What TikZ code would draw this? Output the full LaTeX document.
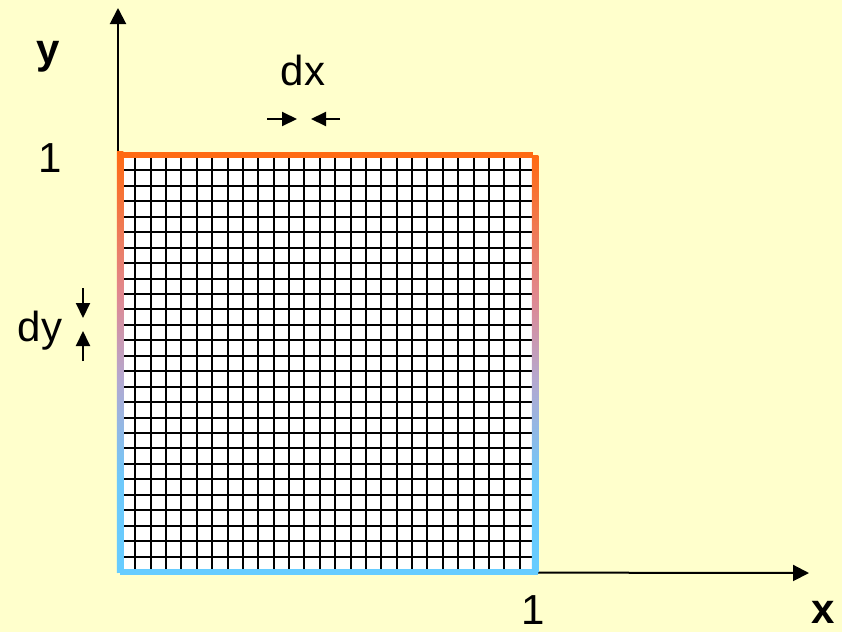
\documentclass[tikz,border=0pt]{standalone}
\usepackage{fontspec}
\setmainfont{Liberation Sans}
\usetikzlibrary{arrows.meta,calc}

\definecolor{paper}{HTML}{FFFFCC}
\definecolor{edgetop}{HTML}{FF6A12}
\definecolor{edgebot}{HTML}{66CCFF}
\definecolor{edgepink}{HTML}{E08890}
\definecolor{edgelilac}{HTML}{B4A8D0}
\pgfdeclareverticalshading{rimshade}{100bp}{
    color(0bp)=(edgebot); color(25bp)=(edgebot); color(36bp)=(edgebot!90!edgelilac);
    color(48bp)=(edgelilac); color(58bp)=(edgepink); color(68bp)=(edgetop!60!edgepink);
    color(75bp)=(edgetop); color(100bp)=(edgetop)}

\begin{document}
\begin{tikzpicture}[
        x=1pt,
        y=-1pt,
        axis/.style={
                draw=black,
                line width=2pt,
                -{Triangle[length=16pt,width=16pt]}
            },
        marker/.style={
                draw=black,
                line width=2pt,
                -{Triangle[length=15pt,width=14pt]}
            },
        label/.style={
                inner sep=0pt,
                anchor=base,
                font=\fontsize{42}{48}\selectfont
            },
        boldlabel/.style={
                label,
                font=\fontsize{42}{48}\selectfont\bfseries
            },
        gridline/.style={
                draw=black,
                line width=2pt
            },
        rim/.style={
                line width=6.5pt
            }
    ]

    % page
    \fill[paper] (0,0) rectangle (842,632);
    \useasboundingbox (0,0) rectangle (842,632);

    % corners of the unit square
    \coordinate (sw) at (120,572);
    \coordinate (ne) at (535,155);
    \coordinate (nw) at (sw |- ne);
    \coordinate (se) at (ne |- sw);

    % axes
    \coordinate (ytip) at (118,8);
    \coordinate (xtip) at (809,573);
    \draw[axis] (118,573) -- (ytip);
    \draw[axis] (sw) -- (xtip);

    % grid
    \fill[white] (sw) rectangle (ne);
    \foreach \i in {1,...,26} {
            \draw[gridline] ($(sw)!\i/27!(se)$) -- ($(nw)!\i/27!(ne)$);
            \draw[gridline] ($(sw)!\i/27!(nw)$) -- ($(se)!\i/27!(ne)$);
        }

    % coloured rim
    \shade[shading=rimshade]
    ($(nw)+(-3.25,-3.25)$) rectangle ($(sw)+(3.25,0)$);
    \shade[shading=rimshade]
    ($(ne)+(-3.25,0)$) rectangle ($(se)+(3.25,0)$);
    \draw[rim, edgetop] ($(nw)+(0,0)$) -- ($(ne)+(-2,0)$);
    \draw[rim, edgebot] ($(sw)+(0,0)$) -- ($(se)+(3.25,0)$);

    % labels
    \node[boldlabel] (ylab) at (48,63) {y};
    \node[label] (yone) at (50,172) {1};
    \node[label] (xone) at (533,624) {1};
    \node[boldlabel] (xlab) at (823,623) {x};
    \node[label] (dxlab) at (303,85) {dx};
    \node[label] (dylab) at (40,341) {dy};

    % step markers
    \coordinate (dxa) at (267,119);
    \coordinate (dxb) at (297,119);
    \coordinate (dxc) at (340,119);
    \coordinate (dxd) at (311,119);
    \draw[marker] (dxa) -- (dxb);
    \draw[marker] (dxc) -- (dxd);

    \coordinate (dya) at (83,288);
    \coordinate (dyb) at (83,318);
    \coordinate (dyc) at (83,361);
    \coordinate (dyd) at (83,331);
    \draw[marker] (dya) -- (dyb);
    \draw[marker] (dyc) -- (dyd);

\end{tikzpicture}
\end{document}
